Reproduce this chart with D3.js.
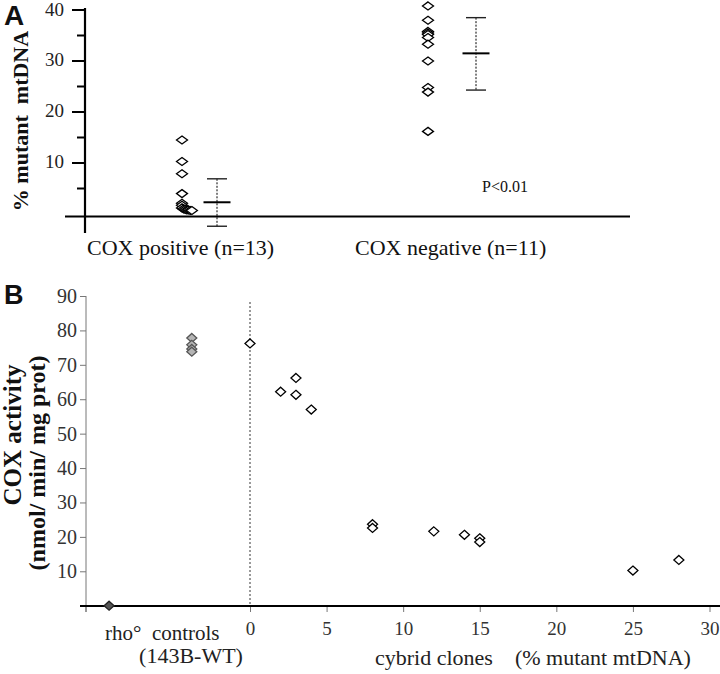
<!DOCTYPE html>
<html><head><meta charset="utf-8">
<script src="https://cdn.jsdelivr.net/npm/d3@7"></script>
<style>body{margin:0;background:#fff}svg{display:block}</style>
</head><body>
<svg id="c" width="720" height="674"></svg>
<script>
// ---------- Panel A data ----------
const groupsA = ["COX positive (n=13)", "COX negative (n=11)"];
const coxPositive = [14.5, 10.3, 7.9, 4.0, 2.1, 1.7, 1.2, 1.0, 0.9, 0.8, 0.8, 0.7, 0.7];
const coxPositiveDodge = [0, 0, 0, 0, 0, 0, 0, 0.15, 0.3, 0.45, 0.6, 0.75, 0.9];
const coxNegative = [40.8, 38.0, 35.8, 35.5, 35.2, 34.6, 33.3, 30.0, 24.8, 23.9, 16.2];
const statsA = [ {mean: 2.3, lo: -2.4, hi: 6.9}, {mean: 31.5, lo: 24.3, hi: 38.5} ];
const ticksA = [0, 5, 10, 15, 20, 25, 30, 35, 40];
const labelTicksA = [10, 20, 30, 40];
const pText = "P<0.01";

// ---------- Panel B data ----------
const catLabelsB = ["rho°", "controls"];
const catPosB = [-9.2, -3.8];
const rhoValues = [0];
const controlValues = [77.8, 75.8, 74.6, 73.8];
const cloneMut = [0, 2, 3, 3, 4, 8, 8, 12, 14, 15, 15, 25, 28];
const cloneCox = [76.2, 62.2, 66.2, 61.3, 57.0, 23.7, 22.6, 21.6, 20.6, 19.6, 18.5, 10.2, 13.3];
const ticksBy = [10, 20, 30, 40, 50, 60, 70, 80, 90];
const ticksBx = [0, 5, 10, 15, 20, 25, 30];

const svg = d3.select("#c");
const serif = "'Liberation Serif','Times New Roman','DejaVu Serif',serif";
const sans = "'Liberation Sans','DejaVu Sans',sans-serif";

function diamond(g, cx, cy, hw, hh, fill, stroke) {
  g.append("path")
    .attr("d", `M${cx},${cy-hh}L${cx+hw},${cy}L${cx},${cy+hh}L${cx-hw},${cy}Z`)
    .attr("fill", fill).attr("stroke", stroke).attr("stroke-width", 1.3);
}

// ================= Panel A =================
const yA = d3.scaleLinear().domain([0, 40]).range([214, 10]);
const dodgePx = d3.scaleLinear().domain([0, 1]).range([0, 11]);
const gA = svg.append("g");
const axisX = 85;

// baseline
gA.append("line").attr("x1", 65).attr("x2", 630).attr("y1", 216.5).attr("y2", 216.5)
  .attr("stroke", "#000").attr("stroke-width", 2.2);
// y axis line
gA.append("line").attr("x1", axisX).attr("x2", axisX).attr("y1", 8).attr("y2", 233)
  .attr("stroke", "#000").attr("stroke-width", 2.2);
// ticks
ticksA.filter(t => t > 0).forEach(t => {
  const major = labelTicksA.includes(t);
  gA.append("line").attr("x1", axisX - (major ? 13 : 8)).attr("x2", axisX)
    .attr("y1", yA(t)).attr("y2", yA(t)).attr("stroke", "#000").attr("stroke-width", 2);
});
labelTicksA.forEach(t => {
  gA.append("text").attr("x", 64).attr("y", Math.max(yA(t) - 1.5, 9)).attr("dy", "0.35em")
    .attr("text-anchor", "end").attr("font-family", serif).attr("font-size", 19)
    .attr("fill", "#222").text(t);
});

const groupX = [182, 428];
const errX = [217, 476];
// points
coxPositive.forEach((v, i) => diamond(gA, groupX[0] + dodgePx(coxPositiveDodge[i]), yA(v), 5.5, 4, "#fff", "#000"));
coxNegative.forEach((v) => diamond(gA, groupX[1], yA(v), 5.5, 4, "#fff", "#000"));

// mean +- SD
statsA.forEach((s, i) => {
  const x = errX[i];
  gA.append("line").attr("x1", x).attr("x2", x).attr("y1", yA(s.hi)).attr("y2", yA(s.lo))
    .attr("stroke", "#000").attr("stroke-width", 1).attr("stroke-dasharray", "2,1.5");
  [s.hi, s.lo].forEach(v => gA.append("line").attr("x1", x - 10).attr("x2", x + 10)
    .attr("y1", yA(v)).attr("y2", yA(v)).attr("stroke", "#222").attr("stroke-width", 1.4));
  gA.append("line").attr("x1", x - 13.5).attr("x2", x + 13.5)
    .attr("y1", yA(s.mean)).attr("y2", yA(s.mean)).attr("stroke", "#000").attr("stroke-width", 2);
});

gA.append("text").attr("x", 482).attr("y", 191.5).attr("font-family", serif)
  .attr("font-size", 16).attr("fill", "#111").text(pText);

// category labels
[87, 355].forEach((x, i) => {
  gA.append("text").attr("x", x).attr("y", 255).attr("text-anchor", "start")
    .attr("font-family", serif).attr("font-size", 22).attr("fill", "#111").text(groupsA[i]);
});

// y title
gA.append("text").attr("transform", "translate(28,121) rotate(-90)")
  .attr("text-anchor", "middle").attr("font-family", serif).attr("font-weight", "bold")
  .attr("font-size", 22).attr("fill", "#111").attr("xml:space", "preserve").text("% mutant  mtDNA");

gA.append("text").attr("x", 4).attr("y", 25).attr("font-family", sans).attr("font-weight", "bold")
  .attr("font-size", 28).attr("fill", "#111").text("A");

// ================= Panel B =================
const gB = svg.append("g");
const yB = d3.scaleLinear().domain([0, 90]).range([605.7, 296]);
const xB = d3.scaleLinear().domain([0, 30]).range([250, 709.5]);
const x0B = 86;

// y axis (gray)
gB.append("line").attr("x1", x0B).attr("x2", x0B).attr("y1", yB(90)).attr("y2", 612)
  .attr("stroke", "#777").attr("stroke-width", 1);
const yAxisB = d3.axisLeft(yB).tickValues(ticksBy).tickSize(6).tickSizeOuter(0).tickPadding(3);
const yg = gB.append("g").attr("transform", `translate(${x0B},0)`).call(yAxisB);
yg.select(".domain").remove();
yg.selectAll(".tick line").attr("stroke", "#777");
yg.selectAll(".tick text").attr("font-family", serif).attr("font-size", 20).attr("fill", "#333");

// x axis ticks
const xAxisB = d3.axisBottom(xB).tickValues(ticksBx).tickSize(6).tickSizeOuter(0).tickPadding(10);
const xg = gB.append("g").attr("transform", `translate(0,606)`).call(xAxisB);
xg.select(".domain").remove();
xg.selectAll(".tick line").attr("stroke", "#777");
xg.selectAll(".tick text").attr("font-family", serif).attr("font-size", 19).attr("fill", "#333");
gB.append("line").attr("x1", x0B).attr("x2", x0B).attr("y1", 606).attr("y2", 612).attr("stroke", "#777");

// baseline
gB.append("line").attr("x1", 80).attr("x2", 720).attr("y1", 606).attr("y2", 606)
  .attr("stroke", "#000").attr("stroke-width", 2.2);

// dashed vertical at 0
gB.append("line").attr("x1", xB(0)).attr("x2", xB(0)).attr("y1", 302).attr("y2", 606)
  .attr("stroke", "#000").attr("stroke-width", 0.8).attr("stroke-dasharray", "2,2");

// points
rhoValues.forEach(v => diamond(gB, xB(catPosB[0]), yB(v), 5, 4.5, "#555", "#222"));
controlValues.forEach(v => diamond(gB, xB(catPosB[1]), yB(v), 5, 4.5, "#b5b5b5", "#555"));
cloneMut.forEach((m, i) => diamond(gB, xB(m), yB(cloneCox[i]), 5, 4.5, "#fff", "#000"));

// category labels
gB.append("text").attr("x", 105).attr("y", 640).attr("font-family", serif).attr("font-size", 21)
  .attr("fill", "#222").attr("xml:space", "preserve").text(catLabelsB[0] + "  " + catLabelsB[1]);
gB.append("text").attr("x", 191).attr("y", 663).attr("text-anchor", "middle").attr("font-family", serif)
  .attr("font-size", 22).attr("fill", "#222").text("(143B-WT)");
gB.append("text").attr("x", 375).attr("y", 665).attr("font-family", serif).attr("font-size", 22)
  .attr("fill", "#222").attr("xml:space", "preserve").text("cybrid clones    (% mutant mtDNA)");

// y title
gB.append("text").attr("transform", "translate(21,435) rotate(-90)")
  .attr("text-anchor", "middle").attr("font-family", serif).attr("font-weight", "bold")
  .attr("font-size", 25).attr("fill", "#111").text("COX activity");
gB.append("text").attr("transform", "translate(45,463) rotate(-90)")
  .attr("text-anchor", "middle").attr("font-family", serif).attr("font-weight", "bold")
  .attr("font-size", 24).attr("fill", "#111").text("(nmol/ min/ mg prot)");

gB.append("text").attr("x", 4).attr("y", 304).attr("font-family", sans).attr("font-weight", "bold")
  .attr("font-size", 27).attr("fill", "#111").text("B");
</script>
</body></html>
